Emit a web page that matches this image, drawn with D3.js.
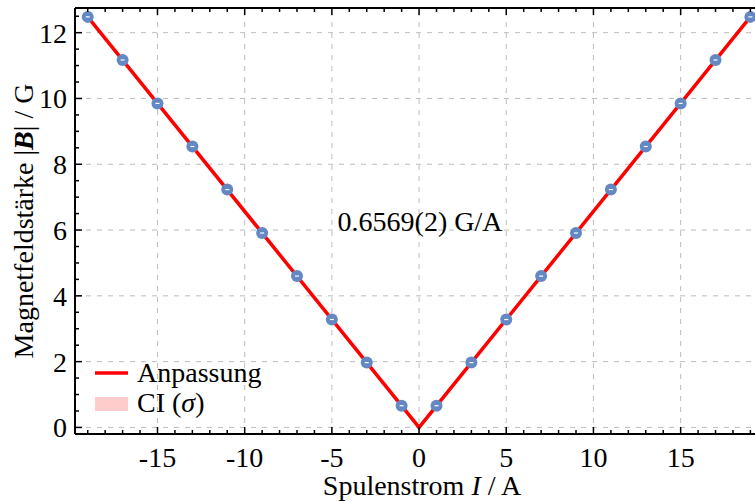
<!DOCTYPE html>
<html>
<head>
<meta charset="utf-8">
<script src="https://cdn.jsdelivr.net/npm/d3@7"></script>
<style>
  body { margin: 0; background: #fff; }
  text { font-family: "Liberation Serif", "DejaVu Serif", serif; fill: #000; }
</style>
</head>
<body>
<div id="chart"></div>
<script>
// measured points (current in A, |B| in G)
var current = [-19, -17, -15, -13, -11, -9, -7, -5, -3, -1, 1, 3, 5, 7, 9, 11, 13, 15, 17, 19];
var field = [12.48, 11.17, 9.85, 8.54, 7.23, 5.91, 4.60, 3.28, 1.97, 0.66,
             0.66, 1.97, 3.28, 4.60, 5.91, 7.23, 8.54, 9.85, 11.17, 12.48];
// fit curve
var fitX = [-19, 0, 19];
var fitY = [12.48, 0, 12.48];
var xTicks = [-15, -10, -5, 0, 5, 10, 15];
var yTicks = [0, 2, 4, 6, 8, 10, 12];

var W = 755, H = 502;
var padding = {top: 8, left: 75, bottom: 68};
var plotRight = 764;
var fs = 28;

var x = d3.scaleLinear().domain([-19.73, 19.78]).range([padding.left, plotRight]);
var y = d3.scaleLinear().domain([-0.2, 12.75]).range([H - padding.bottom, padding.top]);

var svg = d3.select("#chart").append("svg")
    .attr("width", W)
    .attr("height", H);

var x0 = padding.left, x1 = plotRight, y0 = H - padding.bottom, y1 = padding.top;

// grid
svg.append("g").selectAll("line").data(xTicks).enter().append("line")
    .attr("x1", function(d) { return x(d); }).attr("x2", function(d) { return x(d); })
    .attr("y1", y0).attr("y2", y1)
    .attr("stroke", "#bdbdbd").attr("stroke-width", 1).attr("stroke-dasharray", "5,6");
svg.append("g").selectAll("line").data(yTicks).enter().append("line")
    .attr("x1", x0).attr("x2", x1)
    .attr("y1", function(d) { return y(d); }).attr("y2", function(d) { return y(d); })
    .attr("stroke", "#bdbdbd").attr("stroke-width", 1).attr("stroke-dasharray", "5,6");

// fit line
var line = d3.line().x(function(d) { return x(d[0]); }).y(function(d) { return y(d[1]); });
svg.append("path")
    .datum(fitX.map(function(d, i) { return [d, fitY[i]]; }))
    .attr("d", line)
    .attr("fill", "none")
    .attr("stroke", "#ff0000")
    .attr("stroke-width", 3.5);

// points
var pts = svg.append("g").selectAll("g").data(current).enter().append("g")
    .attr("transform", function(d, i) { return "translate(" + x(d) + "," + y(field[i]) + ")"; });
pts.append("circle").attr("r", 6).attr("fill", "#6388c3");
pts.append("line").attr("x1", -2).attr("x2", 2).attr("y1", 0).attr("y2", 0)
    .attr("stroke", "#ffffff").attr("stroke-width", 1.2);

// axes (inward ticks, top and bottom)
var xMinor = d3.range(-19, 20, 1);
var yMinor = d3.range(0, 12.75, 0.5);

function tickLen(d, major) { return major.indexOf(d) >= 0 ? 7 : 4; }

var xMajorAll = d3.range(-15, 20, 5);
svg.append("g").selectAll("line").data(xMinor).enter().append("line")
    .attr("x1", function(d) { return x(d); }).attr("x2", function(d) { return x(d); })
    .attr("y1", y0).attr("y2", function(d) { return y0 - tickLen(d, xMajorAll); })
    .attr("stroke", "#000").attr("stroke-width", 1.5);
svg.append("g").selectAll("line").data(xMinor).enter().append("line")
    .attr("x1", function(d) { return x(d); }).attr("x2", function(d) { return x(d); })
    .attr("y1", y1).attr("y2", function(d) { return y1 + tickLen(d, xMajorAll); })
    .attr("stroke", "#000").attr("stroke-width", 1.5);
svg.append("g").selectAll("line").data(yMinor).enter().append("line")
    .attr("x1", x0).attr("x2", function(d) { return x0 + tickLen(d, yTicks); })
    .attr("y1", function(d) { return y(d); }).attr("y2", function(d) { return y(d); })
    .attr("stroke", "#000").attr("stroke-width", 1.5);

// spines
svg.append("line").attr("x1", x0).attr("x2", x1).attr("y1", y0).attr("y2", y0)
    .attr("stroke", "#000").attr("stroke-width", 2);
svg.append("line").attr("x1", x0).attr("x2", x1).attr("y1", y1).attr("y2", y1)
    .attr("stroke", "#000").attr("stroke-width", 2);
svg.append("line").attr("x1", x0).attr("x2", x0).attr("y1", y0).attr("y2", y1)
    .attr("stroke", "#000").attr("stroke-width", 2);

// tick labels
svg.append("g").selectAll("text").data(xTicks).enter().append("text")
    .attr("x", function(d) { return x(d); })
    .attr("y", 467)
    .attr("text-anchor", "middle")
    .attr("font-size", fs)
    .text(function(d) { return d < 0 ? "-" + Math.abs(d) : d; });
svg.append("g").selectAll("text").data(yTicks).enter().append("text")
    .attr("x", 67)
    .attr("y", function(d) { return y(d) + 10; })
    .attr("text-anchor", "end")
    .attr("font-size", fs)
    .text(function(d) { return d; });

// axis titles
var xt = svg.append("text").attr("x", 422).attr("y", 495)
    .attr("text-anchor", "middle").attr("font-size", fs);
xt.append("tspan").text("Spulenstrom ");
xt.append("tspan").attr("font-style", "italic").text("I");
xt.append("tspan").text(" / A");

var yt = svg.append("text")
    .attr("transform", "translate(33," + 221 + ") rotate(-90)")
    .attr("text-anchor", "middle").attr("font-size", fs);
yt.append("tspan").text("Magnetfeldstärke |");
yt.append("tspan").attr("font-style", "italic").attr("font-weight", "bold").text("B");
yt.append("tspan").text("| / G");

// annotation
svg.append("text").attr("x", 420).attr("y", 231)
    .attr("text-anchor", "middle").attr("font-size", fs)
    .text("0.6569(2) G/A");

// legend
svg.append("line").attr("x1", 95).attr("x2", 128).attr("y1", 373).attr("y2", 373)
    .attr("stroke", "#ff0000").attr("stroke-width", 3.5);
svg.append("text").attr("x", 137).attr("y", 382).attr("font-size", fs).text("Anpassung");
svg.append("rect").attr("x", 95).attr("y", 397).attr("width", 33).attr("height", 14)
    .attr("fill", "#ffcccc");
var ci = svg.append("text").attr("x", 137).attr("y", 412).attr("font-size", fs);
ci.append("tspan").text("CI (");
ci.append("tspan").attr("font-style", "italic").text("σ");
ci.append("tspan").text(")");
</script>
</body>
</html>
